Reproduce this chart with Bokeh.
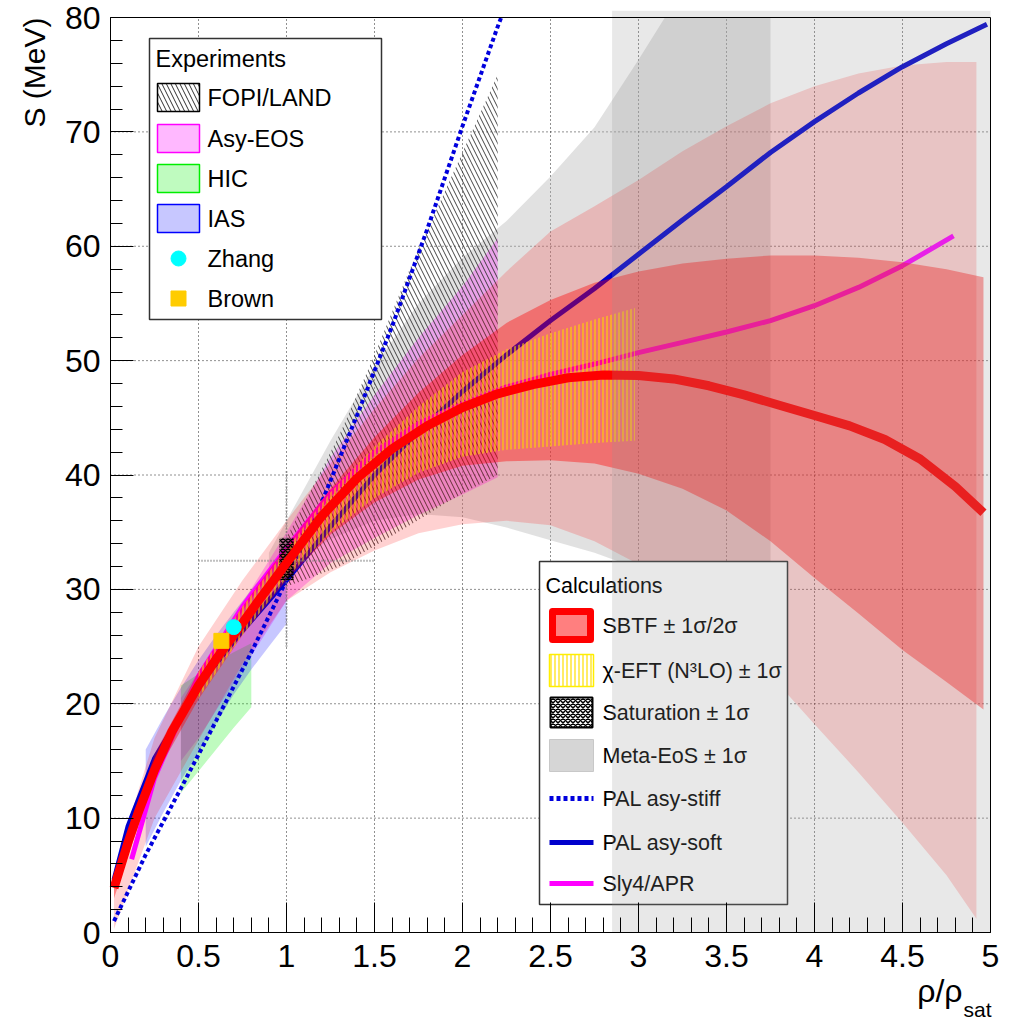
import numpy as np
from bokeh.plotting import figure
from bokeh.models import Range1d, FixedTicker
from bokeh.core.properties import value
from bokeh.embed import file_html
from bokeh.resources import INLINE

FONT = "Liberation Sans"

# ---------------- data (rho / rho_sat , S in MeV) ----------------
# SBTF central curve and its 1 sigma / 2 sigma bands
sbtf_rho = [0.02, 0.1, 0.16, 0.25, 0.35, 0.5, 0.6, 0.7, 0.85, 1.0, 1.2, 1.4, 1.6, 1.8, 2.0,
            2.2, 2.4, 2.6, 2.8, 3.0, 3.2, 3.4, 3.6, 3.8, 4.0, 4.2, 4.4, 4.6, 4.8, 4.96]
sbtf_S = [3.9, 7.9, 10.6, 14.2, 17.6, 21.6, 23.9, 26.0, 29.2, 32.3, 36.4, 39.7, 42.3, 44.3, 45.9,
          47.1, 47.9, 48.5, 48.75, 48.7, 48.4, 47.8, 47.0, 46.1, 45.2, 44.3, 43.1, 41.4, 39.0, 36.7]

sig1_rho = [0.02, 0.25, 0.5, 0.75, 1.0, 1.25, 1.5, 1.75, 2.0, 2.25, 2.5, 2.75, 3.0, 3.25, 3.5,
            3.75, 4.0, 4.25, 4.5, 4.75, 4.96]
sig1_hi = [4.8, 15.6, 22.8, 28.5, 33.8, 38.8, 43.3, 47.2, 50.5, 53.3, 55.3, 56.8, 57.8, 58.5, 58.9,
           59.2, 59.2, 59.0, 58.6, 58.0, 57.3]
sig1_lo = [3.0, 13.6, 20.4, 26.0, 30.8, 34.8, 37.6, 39.6, 40.8, 41.2, 41.3, 41.0, 40.1, 38.8, 36.9,
           34.2, 31.0, 27.9, 24.7, 21.9, 19.5]

sig2_rho = [0.02, 0.25, 0.5, 0.75, 1.0, 1.25, 1.5, 1.75, 2.0, 2.25, 2.5, 2.75, 3.0, 3.25, 3.5,
            3.75, 4.0, 4.25, 4.5, 4.75, 4.92]
sig2_hi = [5.5, 17.0, 25.0, 30.8, 36.0, 41.0, 45.8, 50.2, 54.0, 57.8, 61.3, 63.5, 65.8, 68.3, 70.5,
           72.5, 74.0, 75.1, 75.8, 76.1, 76.1]
sig2_lo = [0.3, 10.0, 16.8, 23.5, 29.0, 31.5, 33.4, 34.9, 35.7, 36.0, 35.6, 34.2, 32.2, 29.6, 26.6,
           22.5, 18.2, 14.0, 9.6, 5.0, 1.2]

# chiral EFT (N3LO) band
eft_rho = [0.5, 0.75, 1.0, 1.25, 1.5, 1.75, 2.0, 2.25, 2.5, 2.75, 2.98]
eft_hi = [22.8, 28.5, 33.5, 38.5, 42.5, 46.0, 49.0, 51.0, 52.4, 53.6, 54.6]
eft_lo = [20.5, 26.0, 31.0, 35.0, 38.0, 40.2, 41.6, 42.2, 42.5, 42.8, 43.0]

# meta-modelling EoS band
meta_rho = [0.9, 1.0, 1.25, 1.5, 1.75, 2.0, 2.25, 2.5, 2.75, 3.0, 3.15, 3.4, 3.75]
meta_hi = [33.2, 36.0, 43.0, 49.5, 55.0, 59.0, 62.2, 66.1, 70.4, 76.3, 80.0, 80.0, 80.0]
meta_lo = [31.0, 31.8, 34.4, 36.0, 36.6, 36.3, 35.4, 34.3, 33.2, 31.8, 30.6, 28.0, 24.0]

# saturation point +- 1 sigma
sat_rho, sat_drho = 1.0, 0.04
sat_S, sat_dS = 32.65, 1.85
cross_rho = [0.5, 1.5]
cross_S = [25.0, 40.4]
cross_S0 = 32.5

# experimental constraints
fopi_rho = [0.95, 1.1, 1.3, 1.5, 1.7, 1.9, 2.05, 2.2]
fopi_hi = [33.0, 37.5, 43.5, 50.5, 58.0, 64.8, 69.9, 75.0]
fopi_lo = [30.0, 30.8, 32.0, 33.8, 35.6, 37.5, 38.8, 40.0]

asy_rho = [0.4, 0.5, 0.75, 1.0, 1.25, 1.5, 1.75, 2.0, 2.2]
asy_hi = [20.5, 22.8, 28.8, 35.0, 41.5, 47.0, 52.0, 56.5, 60.7]
asy_lo = [15.0, 17.0, 23.0, 29.0, 32.3, 34.5, 36.5, 38.3, 39.8]

hic_rho = [0.4, 0.5, 0.6, 0.7, 0.8]
hic_hi = [21.6, 22.6, 23.6, 24.5, 25.3]
hic_lo = [12.2, 14.1, 16.0, 17.9, 19.7]

ias_rho = [0.2, 0.3, 0.4, 0.5, 0.6, 0.7, 0.8, 0.9, 1.0]
ias_hi = [16.0, 18.8, 21.4, 23.8, 26.0, 28.0, 30.0, 31.8, 33.5]
ias_lo = [7.5, 10.5, 13.3, 15.8, 18.3, 20.8, 23.0, 25.0, 27.0]

zhang_rho, zhang_S = [0.70], [26.7]
brown_rho, brown_S = [0.63], [25.5]

# PAL and Sly4/APR curves
stiff_rho = [0.02, 0.2, 0.4, 0.6, 0.8, 1.0, 1.2, 1.4, 1.6, 1.8, 2.0, 2.2, 2.22]
stiff_S = [1.0, 6.8, 12.6, 18.5, 24.5, 30.8, 37.6, 45.2, 53.0, 61.5, 70.5, 79.2, 80.0]

soft_rho = [0.02, 0.1, 0.25, 0.5, 0.75, 1.0, 1.25, 1.5, 1.75, 2.0, 2.25, 2.5, 2.75, 3.0, 3.25,
            3.5, 3.75, 4.0, 4.25, 4.5, 4.75, 4.98]
soft_S = [4.6, 9.3, 15.2, 21.6, 26.4, 30.8, 35.5, 40.0, 43.8, 47.3, 50.5, 53.5, 56.3, 59.3, 62.3,
          65.2, 68.2, 70.9, 73.4, 75.7, 77.7, 79.4]

sly_rho = [0.12, 0.25, 0.5, 0.75, 1.0, 1.25, 1.5, 1.75, 2.0, 2.25, 2.5, 2.75, 3.0, 3.25, 3.5,
           3.75, 4.0, 4.25, 4.5, 4.79]
sly_S = [6.4, 13.5, 22.4, 28.5, 33.6, 38.4, 42.0, 44.5, 46.2, 47.7, 48.8, 49.7, 50.7, 51.6, 52.5,
         53.5, 54.8, 56.4, 58.3, 60.9]

# high-density shaded region
shade_rho = [2.85, 5.0]
shade_S = [0.0, 80.6]

x_major = [0, 0.5, 1, 1.5, 2, 2.5, 3, 3.5, 4, 4.5, 5]
y_major = [0, 10, 20, 30, 40, 50, 60, 70, 80]

# ---------------- canvas / coordinate frame ----------------
W, H = 1009, 1021
L, R, T, B = 110, 19, 17, 89          # margins around the axes box
XMAX, YMAX = 5.0, 80.0


def xd(px):
    """screen x (px) -> data x"""
    return (px - L) / (W - L - R) * XMAX


def yd(py):
    """screen y (px) -> data y"""
    return (H - B - py) / (H - B - T) * YMAX


# the drawing frame spans the whole canvas; axes are pinned to rho=0 / S=0
p = figure(width=W, height=H, x_range=Range1d(xd(0), xd(W)), y_range=Range1d(yd(H), yd(0)),
           output_backend="svg", toolbar_location=None, min_border=0,
           background_fill_color="white", border_fill_color="white")
p.outline_line_color = None
p.grid.visible = False

p.xaxis.fixed_location = 0
p.yaxis.fixed_location = 0
p.xaxis.bounds = (0, XMAX)
p.yaxis.bounds = (0, YMAX)
p.xaxis.ticker = FixedTicker(ticks=x_major, minor_ticks=[round(0.1 * i, 1) for i in range(51)])
p.yaxis.ticker = FixedTicker(ticks=y_major, minor_ticks=list(range(0, 81, 2)))
for ax in (p.xaxis[0], p.yaxis[0]):
    ax.major_tick_out = 0
    ax.minor_tick_out = 0
    ax.axis_line_color = "black"
    ax.major_tick_line_color = "black"
    ax.minor_tick_line_color = "black"
    ax.major_label_text_font = FONT
    ax.major_label_text_font_size = "32px"
    ax.major_label_text_color = "black"
p.xaxis.major_tick_in = 30
p.xaxis.minor_tick_in = 15
p.yaxis.major_tick_in = 23
p.yaxis.minor_tick_in = 12
p.xaxis.major_label_standoff = 12
p.yaxis.major_label_standoff = 10
p.xaxis.major_label_overrides = {0: "0", 1: "1", 2: "2", 3: "3", 4: "4", 5: "5"}

# dotted grid on the major ticks
gx = [v for v in x_major if 0 < v < XMAX]
gy = [v for v in y_major if 0 < v < YMAX]
p.segment(x0=gx, y0=[0] * len(gx), x1=gx, y1=[YMAX] * len(gx),
          line_color="#202020", line_width=1, line_dash="1 3")
p.segment(x0=[0] * len(gy), y0=gy, x1=[XMAX] * len(gy), y1=gy,
          line_color="#202020", line_width=1, line_dash="1 3")

# ---------------- bands ----------------
p.varea(x=meta_rho, y1=meta_lo, y2=meta_hi, fill_color="#b4b4b4", fill_alpha=0.4)
p.varea(x=asy_rho, y1=asy_lo, y2=asy_hi, fill_color="#ff00ff", fill_alpha=0.28)
p.varea(x=hic_rho, y1=hic_lo, y2=hic_hi, fill_color="#00ee00", fill_alpha=0.25)
p.varea(x=ias_rho, y1=ias_lo, y2=ias_hi, fill_color="#0000ff", fill_alpha=0.22)
p.varea(x=fopi_rho, y1=fopi_lo, y2=fopi_hi, fill_alpha=0,
        hatch_pattern="left_diagonal_line", hatch_color="#303030", hatch_scale=9,
        hatch_weight=1, hatch_alpha=0.9)
p.varea(x=sig2_rho, y1=sig2_lo, y2=sig2_hi, fill_color="#ff0000", fill_alpha=0.18)

# PAL / Sly4 curves (under the 1 sigma band)
p.line(stiff_rho, stiff_S, line_color="#0000dd", line_width=4, line_dash="4 3")
p.line(soft_rho, soft_S, line_color="#0000cc", line_width=5)
p.line(sly_rho, sly_S, line_color="#ff00ff", line_width=5)

p.varea(x=sig1_rho, y1=sig1_lo, y2=sig1_hi, fill_color="#ff0000", fill_alpha=0.39)
p.varea(x=eft_rho, y1=eft_lo, y2=eft_hi, fill_alpha=0,
        hatch_pattern="vertical_line", hatch_color="#ffd800", hatch_scale=4,
        hatch_weight=1.2, hatch_alpha=0.9)

# saturation box and its cross
p.segment(x0=[cross_rho[0]], y0=[cross_S0], x1=[cross_rho[1]], y1=[cross_S0],
          line_color="#808080", line_width=2, line_dash="1 2")
p.segment(x0=[sat_rho], y0=[cross_S[0]], x1=[sat_rho], y1=[cross_S[1]],
          line_color="#808080", line_width=2, line_dash="1 2")
p.quad(left=[sat_rho - sat_drho], right=[sat_rho + sat_drho],
       bottom=[sat_S - sat_dS], top=[sat_S + sat_dS],
       fill_color="black", fill_alpha=0.25, line_alpha=0,
       hatch_pattern="diagonal_cross", hatch_color="black", hatch_scale=5, hatch_weight=1.5)

# SBTF central curve
p.line(sbtf_rho, sbtf_S, line_color="#ff0000", line_width=9, line_join="round", line_cap="butt")

# Zhang / Brown points
p.scatter(zhang_rho, zhang_S, marker="circle", size=15, fill_color="#00ffff", line_color="#00ffff")
p.scatter(brown_rho, brown_S, marker="square", size=15, fill_color="#ffcc00", line_color="#ffcc00")


# ---------------- legends ----------------
def txt(px, py, s, size, align="left", angle=0.0):
    p.text(x=[xd(px)], y=[yd(py)], text=[s], text_font=value(FONT), angle=angle,
           text_font_size=size, text_baseline="middle", text_align=align, text_color="black")


def box(x0, y0, x1, y1, **kw):
    p.quad(left=[xd(x0)], right=[xd(x1)], top=[yd(y0)], bottom=[yd(y1)], **kw)


# experiments
box(149, 38, 381, 319, fill_color="white", line_color="#333333", line_width=1.5)
ES = "23.5px"
txt(155, 58, "Experiments", ES)
exp_rows = [97, 138, 178, 218, 258, 298]
sw0, sw1, hh = 157, 199, 14
box(sw0, exp_rows[0] - hh, sw1, exp_rows[0] + hh, fill_color="white", line_color="black",
    line_width=1.5, hatch_pattern="left_diagonal_line", hatch_color="#303030",
    hatch_scale=9, hatch_weight=1)
box(sw0, exp_rows[1] - hh, sw1, exp_rows[1] + hh, fill_color="#ff00ff", fill_alpha=0.28,
    line_color="#ff00ff", line_width=1.5)
box(sw0, exp_rows[2] - hh, sw1, exp_rows[2] + hh, fill_color="#00ee00", fill_alpha=0.25,
    line_color="#00ee00", line_width=1.5)
box(sw0, exp_rows[3] - hh, sw1, exp_rows[3] + hh, fill_color="#0000ff", fill_alpha=0.22,
    line_color="#0000ff", line_width=1.5)
p.scatter([xd(178)], [yd(exp_rows[4])], marker="circle", size=15, fill_color="#00ffff",
          line_color="#00ffff")
p.scatter([xd(178)], [yd(exp_rows[5])], marker="square", size=15, fill_color="#ffcc00",
          line_color="#ffcc00")
for r, s in zip(exp_rows, ["FOPI/LAND", "Asy-EOS", "HIC", "IAS", "Zhang", "Brown"]):
    txt(207, r, s, ES)

# calculations
box(539, 561, 787, 904, fill_color="white", line_color="#333333", line_width=1.5)
CS = "21.5px"
txt(545, 585, "Calculations", CS)
calc_rows = [625, 670, 712, 755, 798, 842, 883]
c0, c1 = 549, 593
box(c0 + 3, calc_rows[0] - 14, c1 - 3, calc_rows[0] + 14, fill_color="#ff0000", fill_alpha=0.5,
    line_color="#ff0000", line_width=7, line_join="round")
box(c0, calc_rows[1] - 16, c1, calc_rows[1] + 16, fill_color="white", line_color="#ffee00",
    line_width=1.5, hatch_pattern="vertical_line", hatch_color="#ffe000", hatch_scale=4,
    hatch_weight=1.2)
box(c0 + 1, calc_rows[2] - 15, c1 - 1, calc_rows[2] + 15, fill_color="white", line_color="black",
    line_width=2, hatch_pattern="diagonal_cross", hatch_color="black", hatch_scale=5,
    hatch_weight=1.5)
box(c0, calc_rows[3] - 16, c1, calc_rows[3] + 16, fill_color="#d6d6d6", line_color="#c8c8c8",
    line_width=1)
p.line([xd(c0), xd(c1)], [yd(calc_rows[4])] * 2, line_color="#0000dd", line_width=5, line_dash="4 3")
p.line([xd(c0), xd(c1)], [yd(calc_rows[5])] * 2, line_color="#0000cc", line_width=5)
p.line([xd(c0), xd(c1)], [yd(calc_rows[6])] * 2, line_color="#ff00ff", line_width=5)
for r, s in zip(calc_rows, ["SBTF \u00b1 1\u03c3/2\u03c3", "\u03c7-EFT (N\u00b3LO) \u00b1 1\u03c3",
                            "Saturation \u00b1 1\u03c3", "Meta-EoS \u00b1 1\u03c3",
                            "PAL asy-stiff", "PAL asy-soft", "Sly4/APR"]):
    txt(602, r, s, CS)

# translucent shading of the high-density region (drawn over everything)
p.quad(left=[shade_rho[0]], right=[shade_rho[1]], bottom=[shade_S[0]], top=[shade_S[1]],
       fill_color="#949494", fill_alpha=0.216, line_alpha=0)

# frame: top and right edges
p.segment(x0=[0, XMAX], y0=[YMAX, 0], x1=[XMAX, XMAX], y1=[YMAX, YMAX],
          line_color="black", line_width=1)

# ---------------- axis titles ----------------
txt(34, 17, "S (MeV)", "30px", align="right", angle=np.pi / 2)
txt(962, 990, "\u03c1/\u03c1", "32px", align="right")
txt(963, 1009, "sat", "21px")

open("out.html", "w").write(file_html(p, INLINE))
